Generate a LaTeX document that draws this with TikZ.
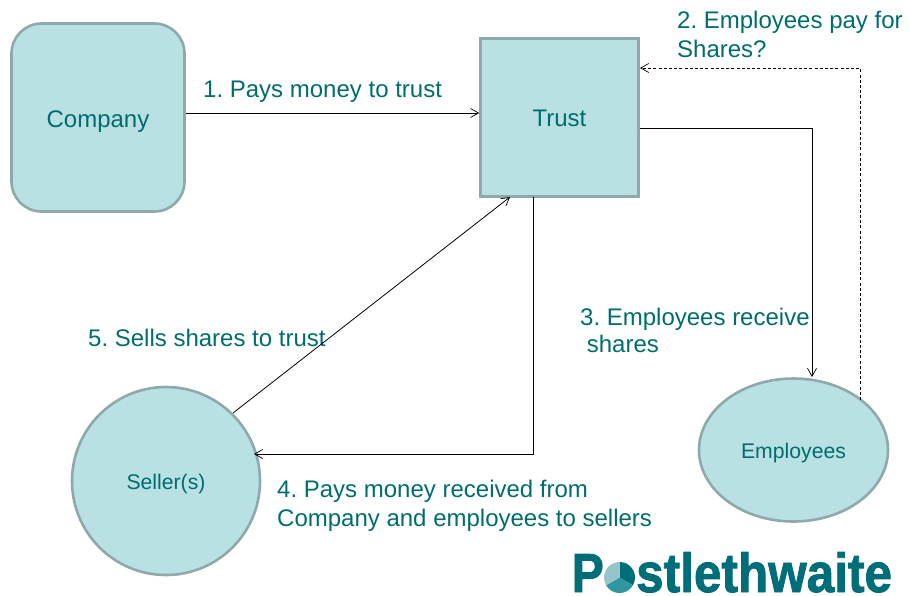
\documentclass[tikz,border=0pt]{standalone}
\usepackage{fontspec}
\usepackage{graphicx}
\setmainfont{Liberation Sans}
\newfontfamily\logofont[FakeBold=1.6]{Liberation Sans Bold}
\usetikzlibrary{arrows.meta,shapes.geometric,calc}
\definecolor{tealtxt}{HTML}{006D6D}
\definecolor{boxfill}{HTML}{B9E0E3}
\definecolor{boxline}{HTML}{8FA9AB}
\definecolor{logoa}{HTML}{006E78}
\definecolor{logob}{HTML}{2E97A0}
\definecolor{logoc}{HTML}{96C4CB}
\newcommand{\shapetext}[2]{\raisebox{#1}[0pt][0pt]{#2}}
\tikzset{
  x=1pt,y=-1pt,
  shapebox/.style={draw=boxline,fill=boxfill,line width=2.6pt,inner sep=0pt,text=tealtxt},
  lbl/.style={text=tealtxt,inner sep=0pt,anchor=north west,align=left,font=\fontsize{24}{28.7}\selectfont\frenchspacing},
  conn/.style={draw=black,line width=0.8pt,-{Straight Barb[length=8pt,width=9pt,line width=0.7pt]}},
}
\begin{document}
\begin{tikzpicture}
\useasboundingbox (0,0) rectangle (909,595);
\node[shapebox,rectangle,rounded corners=30pt,minimum width=173pt,minimum height=188pt,font=\fontsize{24}{28}\selectfont] (company) at (98,117.5) {\shapetext{-9.5pt}{Company}};
\node[shapebox,rectangle,minimum width=158pt,minimum height=158pt,font=\fontsize{24}{28}\selectfont] (trust) at (559.5,117.5) {\shapetext{-9pt}{Trust}};
\node[shapebox,circle,minimum size=188pt,font=\fontsize{21.2}{25}\selectfont] (seller) at (166,481) {\shapetext{-8pt}{Seller(s)}};
\node[shapebox,ellipse,minimum width=189pt,minimum height=143pt,font=\fontsize{21.2}{25}\selectfont] (employees) at (793.5,450) {\shapetext{-8.5pt}{Employees}};

\node[lbl] (l1) at (203,80.5) {1. Pays money to trust};
\node[lbl] (l2) at (677,11) {2. Employees pay for\\Shares?};
\node[lbl,font=\fontsize{24}{27}\selectfont\frenchspacing] (l3) at (580,308) {3. Employees receive\\\ shares};
\node[lbl] (l4) at (277,480) {4. Pays money received from\\Company and employees to sellers};
\node[lbl] (l5) at (88,329) {5. Sells shares to trust};

\coordinate (c1) at (company.east |- 0,113);
\coordinate (t1) at (trust.west |- 0,113);
\coordinate (t2) at (trust.east |- 0,128);
\coordinate (e1) at (812,128);
\coordinate (e2) at (812,377);
\coordinate (e3) at (860,400);
\coordinate (d1) at (860,68);
\coordinate (t3) at (640,68);
\coordinate (s1) at (233,413);
\coordinate (t4) at (510,197);
\coordinate (t5) at (533,197);
\coordinate (d2) at (533,454);
\coordinate (s2) at (254,454);

\draw[conn] (c1) -- (t1);
\draw[conn] (t2) -- (e1) -- (e2);
\draw[conn,dash pattern=on 3pt off 2.2pt,line width=0.7pt] (e3) -- (d1) -- (t3);
\draw[conn] (s1) -- (t4);
\draw[conn] (t5) -- (d2) -- (s2);

% logo
\node[inner sep=0pt,anchor=base west,text=logoa,font=\fontsize{55}{55}\logofont] (logoP) at (571.5,592) {\scalebox{0.875}[1]{P}};
\node[inner sep=0pt,anchor=base west,text=logoa,font=\fontsize{55}{55}\logofont] (logoS) at (636,592) {\scalebox{0.9}[1]{stlethwaite}};
\coordinate (pie) at (619.5,577.5);
\fill[logoa] (pie) -- (619.5,562) arc[start angle=-90,end angle=30,radius=15.5] -- cycle;
\fill[logob] (pie) -- ++(13.4,7.75) arc[start angle=30,end angle=150,radius=15.5] -- cycle;
\fill[logoc] (pie) -- ++(-13.4,7.75) arc[start angle=150,end angle=270,radius=15.5] -- cycle;
\end{tikzpicture}
\end{document}
